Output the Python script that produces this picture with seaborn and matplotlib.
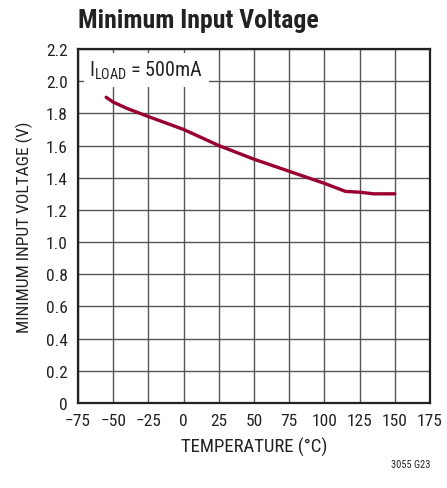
import matplotlib
matplotlib.use("Agg")
import matplotlib.pyplot as plt
from matplotlib import font_manager
import seaborn as sns
import pandas as pd

temps = [-55, -50, -40, -25, 0, 25, 50, 75, 100, 115, 125, 135, 150]
vmin = [1.90, 1.87, 1.83, 1.78, 1.70, 1.60, 1.515, 1.44, 1.365, 1.315, 1.31, 1.30, 1.30]
xticks = [-75, -50, -25, 0, 25, 50, 75, 100, 125, 150, 175]
xticklabels = ["\u221275", "\u221250", "\u221225", "0", "25", "50", "75", "100", "125", "150", "175"]
yticks = [0, 0.2, 0.4, 0.6, 0.8, 1.0, 1.2, 1.4, 1.6, 1.8, 2.0, 2.2]
yticklabels = ["0", "0.2", "0.4", "0.6", "0.8", "1.0", "1.2", "1.4", "1.6", "1.8", "2.0", "2.2"]

sns.set_theme(style="white")
names = {f.name for f in font_manager.fontManager.ttflist}
fam = "DejaVu Sans"
for cand in ["Liberation Sans Narrow", "Roboto Condensed", "Open Sans Condensed", "Liberation Sans"]:
    if cand in names:
        fam = cand
        break
plt.rcParams["font.family"] = [fam, "DejaVu Sans"]
plt.rcParams["mathtext.fontset"] = "custom"
plt.rcParams["mathtext.rm"] = fam

df = pd.DataFrame({"T": temps, "V": vmin})

fig = plt.figure(figsize=(4.47, 4.89), dpi=100)
ax = fig.add_axes([78 / 447, 1 - 404 / 489, 352 / 447, 354 / 489])
sns.lineplot(data=df, x="T", y="V", ax=ax, color="#990030", linewidth=2.4)

ax.set_xlim(-75, 175)
ax.set_ylim(0, 2.2)
ax.set_xticks(xticks)
ax.set_xticklabels(xticklabels, fontsize=12.5, color="#222222")
ax.set_yticks(yticks)
ax.set_yticklabels(yticklabels, fontsize=12.5, color="#222222")
ax.tick_params(axis="x", length=0, pad=7.5)
ax.tick_params(axis="y", length=0, pad=7.5)
ax.grid(True, color="#555555", linewidth=1.0)
ax.set_axisbelow(True)
for s in ax.spines.values():
    s.set_color("#222222")
    s.set_linewidth(1.6)

ax.set_xlabel("TEMPERATURE (\u00b0C)", fontsize=13.5, color="#222222", labelpad=6)
ax.set_ylabel("MINIMUM INPUT VOLTAGE (V)", fontsize=12.5, color="#222222", labelpad=9)

ax.text(-67, 2.07, r"I$_{\mathregular{LOAD}}$ = 500mA", fontsize=14.5, color="#222222",
        va="center", ha="left",
        bbox=dict(facecolor="white", edgecolor="none", pad=4))

fig.text(78 / 447, 1 - 21 / 489, "Minimum Input Voltage", fontsize=18.5, fontweight="bold",
         color="#222222", ha="left", va="center")
fig.text(430 / 447, 1 - 465 / 489, "3055 G23", fontsize=7.5, color="#222222",
         ha="right", va="center")

fig.savefig("out.png", dpi=100)
